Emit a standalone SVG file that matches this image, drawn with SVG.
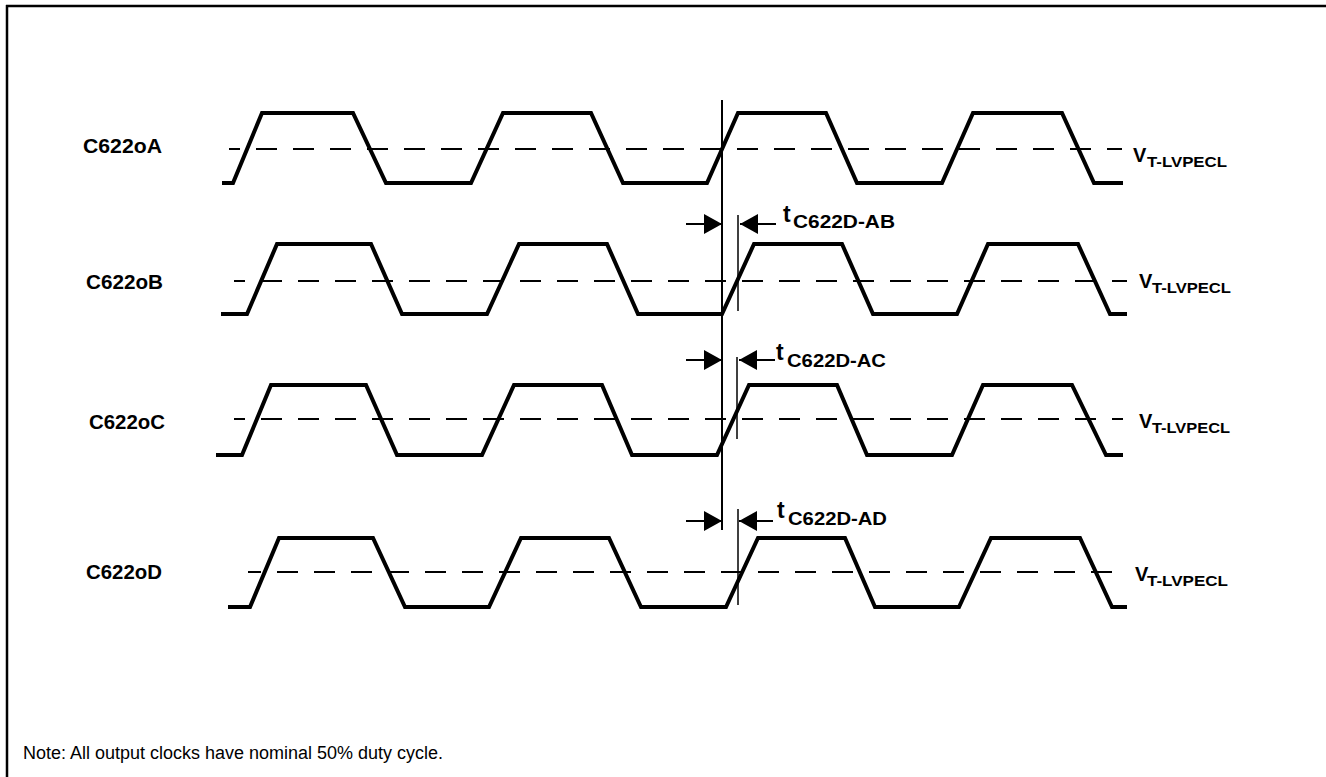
<svg xmlns="http://www.w3.org/2000/svg" width="1326" height="777" viewBox="0 0 1326 777">
<defs>
<style>
.wave{fill:none;stroke:#000;stroke-width:4;stroke-linejoin:miter;stroke-linecap:butt}
.thr{fill:none;stroke:#000;stroke-width:2;stroke-dasharray:21 16}
.lbl{font-family:"Liberation Sans",Arial,sans-serif;font-weight:bold;font-size:21px;fill:#000}
.vmain{font-family:"Liberation Sans",Arial,sans-serif;font-weight:bold;font-size:20px;fill:#000}
.vsub{font-family:"Liberation Sans",Arial,sans-serif;font-weight:bold;font-size:15.5px;fill:#000}
.tmain{font-family:"Liberation Sans",Arial,sans-serif;font-weight:bold;font-size:23px;fill:#000}
.tsub{font-family:"Liberation Sans",Arial,sans-serif;font-weight:bold;font-size:19px;fill:#000}
.note{font-family:"Liberation Sans",Arial,sans-serif;font-size:18px;fill:#000}
.ref{stroke:#000;stroke-width:2;fill:none}
.skew{stroke:#000;stroke-width:1.5;fill:none}
.arr{stroke:#000;stroke-width:2;fill:none;marker-end:url(#ah)}
</style>
<marker id="ah" markerUnits="userSpaceOnUse" markerWidth="18" markerHeight="20" viewBox="0 0 18 20" refX="18" refY="10" orient="auto">
<path d="M0,0 L18,10 L0,20 Z" fill="#000"/>
</marker>
</defs>
<rect width="1326" height="777" fill="#fff"/>
<g id="frame">
<line x1="6" y1="6" x2="1326" y2="6" stroke="#000" stroke-width="2.5"/>
<line x1="7" y1="5" x2="7" y2="777" stroke="#000" stroke-width="2.5"/>
</g>
<g id="signal-A">
<text class="lbl" x="83" y="153" textLength="79" lengthAdjust="spacingAndGlyphs">C622oA</text>
<line class="thr" x1="229" y1="149" x2="1122" y2="149" stroke-dashoffset="10"/>
<path class="wave" d="M222,183 L233,183 L262,113 L353,113 L386,183 L471,183 L503,113 L591,113 L623,183 L707,183 L738,113 L826,113 L857,183 L942,183 L973,113 L1062,113 L1094,183 L1123,183"/>
<text x="1133" y="162"><tspan class="vmain">V</tspan><tspan class="vsub" x="1147" y="167" textLength="80" lengthAdjust="spacingAndGlyphs">T-LVPECL</tspan></text>
</g>
<g id="signal-B">
<text class="lbl" x="86" y="289" textLength="77" lengthAdjust="spacingAndGlyphs">C622oB</text>
<line class="thr" x1="234" y1="281" x2="1127" y2="281" stroke-dashoffset="10"/>
<path class="wave" d="M221,314 L247,314 L277,244 L371,244 L402,314 L487,314 L519,244 L607,244 L638,314 L722,314 L754,244 L842,244 L873,314 L957,314 L988,244 L1078,244 L1110,314 L1127,314"/>
<text x="1139" y="288"><tspan class="vmain">V</tspan><tspan class="vsub" x="1152" y="293" textLength="79" lengthAdjust="spacingAndGlyphs">T-LVPECL</tspan></text>
</g>
<g id="signal-C">
<text class="lbl" x="89" y="429" textLength="76" lengthAdjust="spacingAndGlyphs">C622oC</text>
<line class="thr" x1="234" y1="419" x2="1123" y2="419" stroke-dashoffset="10"/>
<path class="wave" d="M216,455 L242,455 L271,385 L366,385 L397,455 L482,455 L514,385 L602,385 L632,455 L717,455 L749,385 L837,385 L867,455 L952,455 L983,385 L1072,385 L1106,455 L1123,455"/>
<text x="1139" y="428"><tspan class="vmain">V</tspan><tspan class="vsub" x="1152" y="433" textLength="78" lengthAdjust="spacingAndGlyphs">T-LVPECL</tspan></text>
</g>
<g id="signal-D">
<text class="lbl" x="86" y="579" textLength="76" lengthAdjust="spacingAndGlyphs">C622oD</text>
<line class="thr" x1="248" y1="572" x2="1120" y2="572" stroke-dashoffset="8"/>
<path class="wave" d="M228,607 L250,607 L279,538 L373,538 L405,607 L489,607 L521,538 L609,538 L641,607 L726,607 L758,538 L845,538 L875,607 L959,607 L991,538 L1080,538 L1112,607 L1127,607"/>
<text x="1135" y="581"><tspan class="vmain">V</tspan><tspan class="vsub" x="1147" y="586" textLength="81" lengthAdjust="spacingAndGlyphs">T-LVPECL</tspan></text>
</g>
<g id="reference-edge">
<line class="ref" x1="722" y1="100" x2="722" y2="530"/>
</g>
<g id="skew-AB">
<line class="skew" x1="738" y1="215" x2="738" y2="311"/>
<text x="783" y="222"><tspan class="tmain">t</tspan><tspan class="tsub" x="793" y="228" textLength="102" lengthAdjust="spacingAndGlyphs">C622D-AB</tspan></text>
</g>
<g id="skew-AC">
<line class="skew" x1="737" y1="357" x2="737" y2="439" stroke-width="1.2"/>
<text x="776" y="360"><tspan class="tmain">t</tspan><tspan class="tsub" x="787" y="367" textLength="99" lengthAdjust="spacingAndGlyphs">C622D-AC</tspan></text>
</g>
<g id="skew-AD">
<line class="skew" x1="738" y1="509" x2="738" y2="605"/>
<text x="777" y="518"><tspan class="tmain">t</tspan><tspan class="tsub" x="788" y="525" textLength="99" lengthAdjust="spacingAndGlyphs">C622D-AD</tspan></text>
</g>
<g id="connectors">
<line class="arr" x1="686" y1="224" x2="722" y2="224"/>
<line class="arr" x1="776" y1="224" x2="740" y2="224"/>
<line class="arr" x1="686" y1="360" x2="722" y2="360"/>
<line class="arr" x1="775" y1="360" x2="739" y2="360"/>
<line class="arr" x1="686" y1="521" x2="722" y2="521"/>
<line class="arr" x1="773" y1="521" x2="739" y2="521"/>
</g>
<g id="note">
<text class="note" x="23" y="759" textLength="420" lengthAdjust="spacingAndGlyphs">Note: All output clocks have nominal 50% duty cycle.</text>
</g>
</svg>
